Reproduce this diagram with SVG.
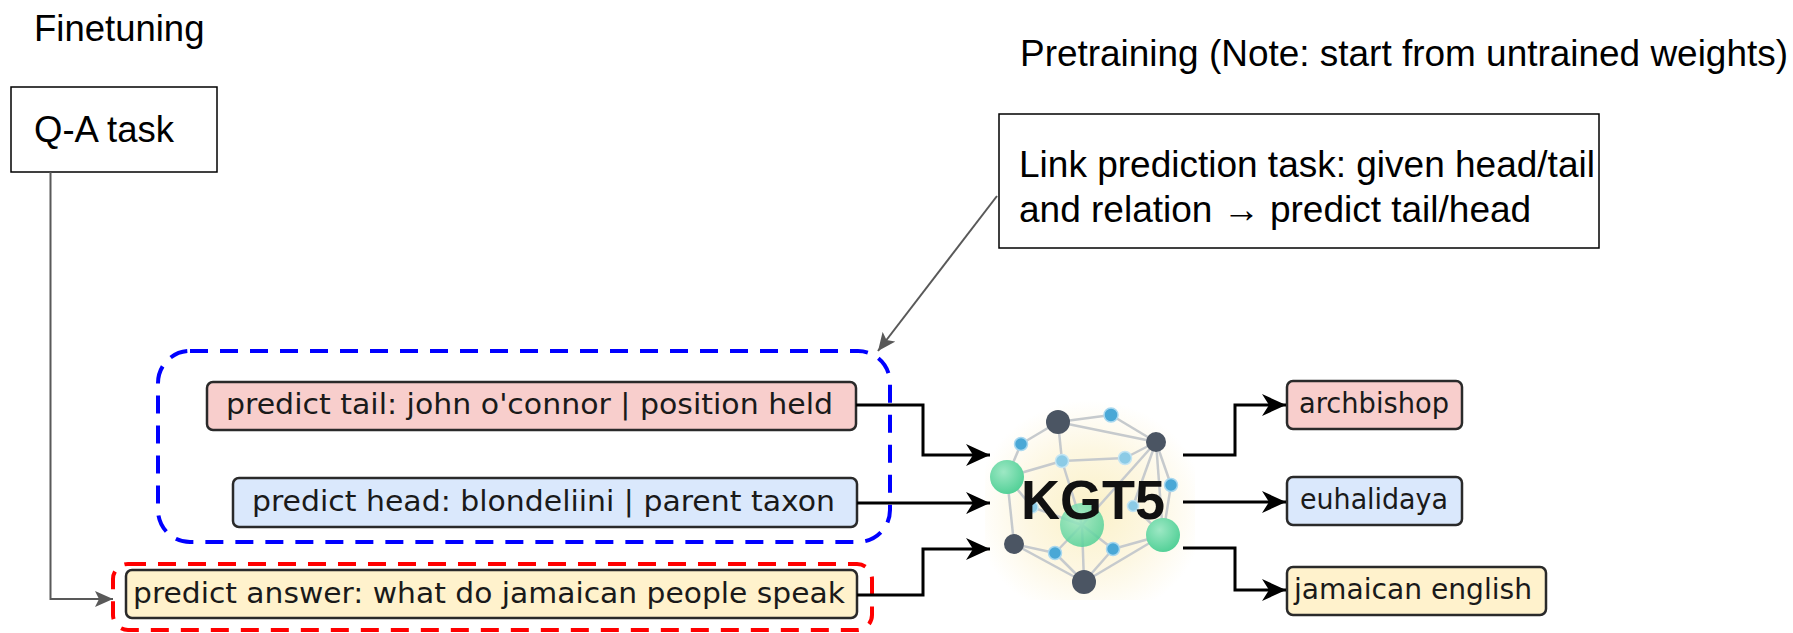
<svg xmlns="http://www.w3.org/2000/svg" width="1793" height="633" viewBox="0 0 1793 633">
  <style>
    .slide { font-family: "Liberation Sans", Arial, sans-serif; fill: #000; }
    .plain { fill: #fff; stroke: #000; stroke-width: 1.5; }
    .tok { stroke: #2a2a2a; stroke-width: 2.5; }
    .tok-red { fill: #f8cecc; }
    .tok-blue { fill: #dae8fc; }
    .tok-yellow { fill: #fff2cc; }
    .toktext { font-family: "DejaVu Sans", Verdana, sans-serif; font-size: 29px; fill: #1a1a1a; }
    .flow { fill: none; stroke: #000; stroke-width: 3; }
    .note { fill: none; stroke: #595959; stroke-width: 2; }
    .group { fill: none; stroke-width: 4; stroke-dasharray: 18 12; }
    .edge { stroke: #c6cacd; stroke-width: 2.5; }
    .dark { fill: #4b5563; }
    .green { fill: url(#gGreen); }
    .blue { fill: #4aa8d6; stroke: #a9d8ef; stroke-width: 1.5; }
    .lblue { fill: #8ccbe6; stroke: #c4e5f3; stroke-width: 1.5; }
  </style>
  <defs>
    <marker id="ah" markerUnits="userSpaceOnUse" markerWidth="26" markerHeight="24" refX="24" refY="12" orient="auto">
      <path d="M0,1 L24,12 L0,23 L7,12 z" fill="#000"/>
    </marker>
    <marker id="ahg" markerUnits="userSpaceOnUse" markerWidth="20" markerHeight="16" refX="18" refY="8" orient="auto">
      <path d="M0,0 L18,8 L0,16 L4,8 z" fill="#595959"/>
    </marker>
    <radialGradient id="glow" cx="0.5" cy="0.55" r="0.55">
      <stop offset="0" stop-color="#fbf1c8"/>
      <stop offset="0.55" stop-color="#fdf7e2"/>
      <stop offset="1" stop-color="#ffffff"/>
    </radialGradient>
    <radialGradient id="gGreen" cx="0.4" cy="0.35" r="0.7">
      <stop offset="0" stop-color="#9de8c4"/>
      <stop offset="1" stop-color="#4fcf95"/>
    </radialGradient>
  </defs>

  <!-- section headings -->
  <text id="finetuning" class="slide" x="34" y="41" font-size="36.5">Finetuning</text>
  <text id="pretraining" class="slide" x="1020" y="66" font-size="36" textLength="768" lengthAdjust="spacingAndGlyphs">Pretraining (Note: start from untrained weights)</text>

  <!-- dashed groupings -->
  <rect id="link-group" class="group" x="158" y="351" width="732" height="191" rx="32" stroke="#0000ff"/>
  <rect id="qa-group" class="group" x="113" y="564" width="759" height="66" rx="15" stroke="#ff0000"/>

  <g id="qa-task">
    <rect class="plain" x="11" y="87" width="206" height="85"/>
    <text class="slide" x="34" y="142" font-size="36.5">Q-A task</text>
  </g>

  <g id="link-task">
    <rect class="plain" x="999" y="114" width="600" height="134"/>
    <text class="slide" x="1019" y="177" font-size="37">Link prediction task: given head/tail</text>
    <text class="slide" x="1019" y="222" font-size="37">and relation → predict tail/head</text>
  </g>

  <g id="in-tail">
    <rect class="tok tok-red" x="207" y="382" width="649" height="48" rx="6"/>
    <text class="toktext" x="226" y="414" textLength="607" lengthAdjust="spacingAndGlyphs">predict tail: john o'connor | position held</text>
  </g>
  <g id="in-head">
    <rect class="tok tok-blue" x="233" y="478" width="624" height="49" rx="6"/>
    <text class="toktext" x="252" y="511" textLength="583" lengthAdjust="spacingAndGlyphs">predict head: blondeliini | parent taxon</text>
  </g>
  <g id="in-answer">
    <rect class="tok tok-yellow" x="126" y="570" width="731" height="48" rx="6"/>
    <text class="toktext" x="133" y="603" textLength="712" lengthAdjust="spacingAndGlyphs">predict answer: what do jamaican people speak</text>
  </g>

  <g id="out-tail">
    <rect class="tok tok-red" x="1287" y="381" width="175" height="48" rx="6"/>
    <text class="toktext" x="1299" y="413" textLength="150" lengthAdjust="spacingAndGlyphs">archbishop</text>
  </g>
  <g id="out-head">
    <rect class="tok tok-blue" x="1287" y="477" width="175" height="48" rx="6"/>
    <text class="toktext" x="1300" y="509" textLength="148" lengthAdjust="spacingAndGlyphs">euhalidaya</text>
  </g>
  <g id="out-answer">
    <rect class="tok tok-yellow" x="1287" y="567" width="259" height="48" rx="6"/>
    <text class="toktext" x="1294" y="599" textLength="238" lengthAdjust="spacingAndGlyphs">jamaican english</text>
  </g>

  <!-- KGT5 model logo: graph mesh with wordmark -->
  <g id="kgt5">
    <rect x="985" y="400" width="210" height="200" fill="url(#glow)"/>
    <g class="edge">
      <line x1="1058" y1="422" x2="1111" y2="415"/>
      <line x1="1111" y1="415" x2="1156" y2="442"/>
      <line x1="1058" y1="422" x2="1156" y2="442"/>
      <line x1="1058" y1="422" x2="1021" y2="444"/>
      <line x1="1021" y1="444" x2="1007" y2="477"/>
      <line x1="1058" y1="422" x2="1062" y2="461"/>
      <line x1="1062" y1="461" x2="1007" y2="477"/>
      <line x1="1062" y1="461" x2="1125" y2="458"/>
      <line x1="1125" y1="458" x2="1156" y2="442"/>
      <line x1="1156" y1="442" x2="1171" y2="485"/>
      <line x1="1171" y1="485" x2="1163" y2="535"/>
      <line x1="1156" y1="442" x2="1133" y2="506"/>
      <line x1="1156" y1="442" x2="1082" y2="525"/>
      <line x1="1156" y1="442" x2="1163" y2="535"/>
      <line x1="1062" y1="461" x2="1082" y2="525"/>
      <line x1="1133" y1="506" x2="1163" y2="535"/>
      <line x1="1007" y1="477" x2="1014" y2="544"/>
      <line x1="1007" y1="477" x2="1032" y2="507"/>
      <line x1="1032" y1="507" x2="1082" y2="525"/>
      <line x1="1014" y1="544" x2="1055" y2="553"/>
      <line x1="1055" y1="553" x2="1084" y2="582"/>
      <line x1="1014" y1="544" x2="1084" y2="582"/>
      <line x1="1082" y1="525" x2="1084" y2="582"/>
      <line x1="1082" y1="525" x2="1055" y2="553"/>
      <line x1="1082" y1="525" x2="1113" y2="549"/>
      <line x1="1084" y1="582" x2="1113" y2="549"/>
      <line x1="1113" y1="549" x2="1163" y2="535"/>
      <line x1="1084" y1="582" x2="1163" y2="535"/>
    </g>
    <circle class="lblue" cx="1032" cy="507" r="6"/>
    <circle class="dark" cx="1058" cy="422" r="12"/>
    <circle class="blue" cx="1111" cy="415" r="7"/>
    <circle class="dark" cx="1156" cy="442" r="10"/>
    <circle class="blue" cx="1021" cy="444" r="6.5"/>
    <circle class="lblue" cx="1062" cy="461" r="6.5"/>
    <circle class="lblue" cx="1125" cy="458" r="6.5"/>
    <circle class="green" cx="1007" cy="477" r="17"/>
    <circle class="blue" cx="1171" cy="485" r="6.5"/>
    <circle class="lblue" cx="1133" cy="506" r="5.5"/>
    <circle class="green" cx="1082" cy="525" r="22" opacity="0.85"/>
    <circle class="green" cx="1163" cy="535" r="17"/>
    <circle class="dark" cx="1014" cy="544" r="10"/>
    <circle class="blue" cx="1055" cy="553" r="6.5"/>
    <circle class="blue" cx="1113" cy="549" r="6.5"/>
    <circle class="dark" cx="1084" cy="582" r="12"/>
    <text x="1021" y="519" font-family="'Liberation Sans', Arial, sans-serif" font-weight="bold" font-size="55" fill="#111" textLength="144" lengthAdjust="spacingAndGlyphs">KGT5</text>
  </g>

  <!-- connectors -->
  <g id="connectors">
    <path class="flow" d="M856 405 H923 V455 H990" marker-end="url(#ah)"/>
    <path class="flow" d="M857 503 H990" marker-end="url(#ah)"/>
    <path class="flow" d="M857 595 H923 V549 H990" marker-end="url(#ah)"/>
    <path class="flow" d="M1183 455 H1235 V405 H1286" marker-end="url(#ah)"/>
    <path class="flow" d="M1183 502 H1286" marker-end="url(#ah)"/>
    <path class="flow" d="M1183 548 H1235 V590 H1286" marker-end="url(#ah)"/>
    <path class="note" d="M50.5 172 V599 H113" marker-end="url(#ahg)"/>
    <path class="note" d="M997 196 L878 351" marker-end="url(#ahg)"/>
  </g>
</svg>
